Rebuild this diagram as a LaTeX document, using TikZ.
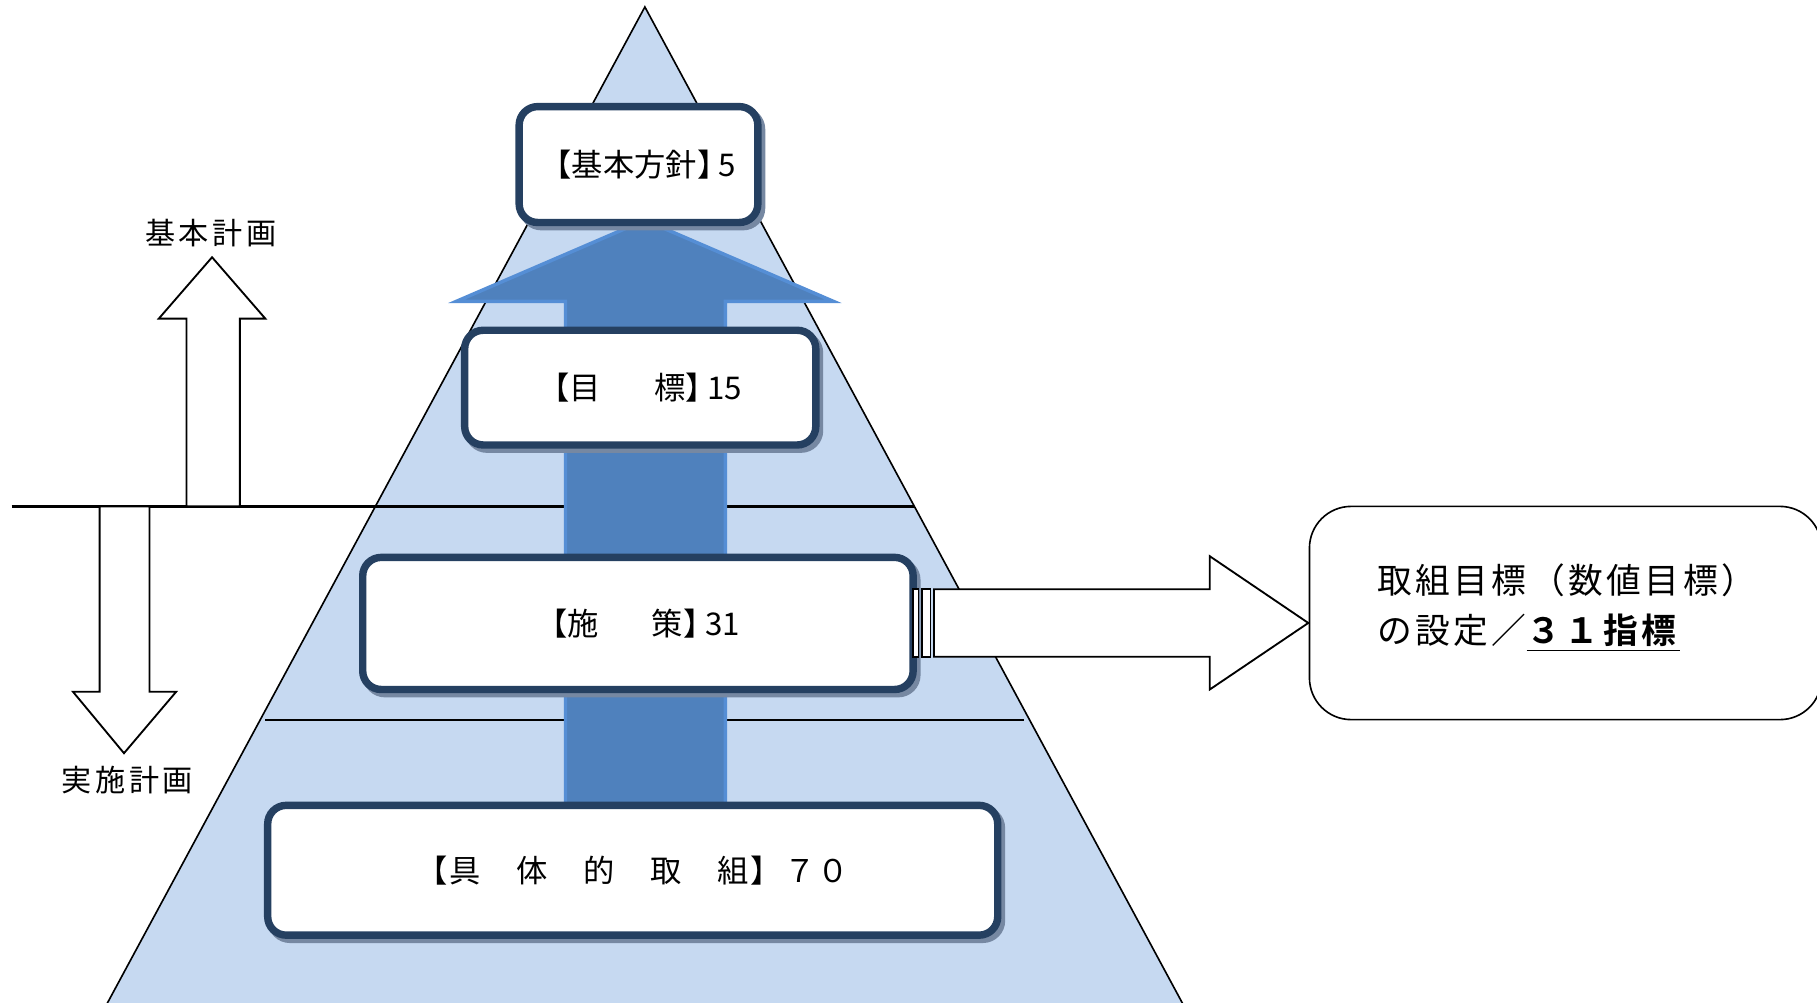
\documentclass[tikz,border=0pt]{standalone}
\usepackage{fontspec}
\setmainfont{Noto Sans CJK JP}[BoldFont={Noto Sans CJK JP Bold}]
\newfontfamily\jplab{Noto Sans CJK JP}[LetterSpace=12]
\newfontfamily\jpright{Noto Sans CJK JP}[LetterSpace=10,BoldFont={Noto Sans CJK JP Bold}]
\newfontfamily\jpwide{Noto Sans CJK JP}[LetterSpace=7]
\definecolor{trifill}{HTML}{C6D9F1}
\definecolor{arrfill}{HTML}{4F81BD}
\definecolor{arrline}{HTML}{558ED5}
\definecolor{navy}{HTML}{254061}
\definecolor{shadowc}{HTML}{7688A2}
\tikzset{
  pbox/.style={draw=navy, line width=3.2pt, fill=white, rounded corners=8pt,
    inner sep=0pt, font=\fontsize{13.5}{16}\selectfont,
    preaction={draw=shadowc, line width=3.2pt, transform canvas={shift={(1.6pt,-1.8pt)}}}},
  hollow/.style={draw=black, fill=white, line width=0.8pt, line join=miter},
  bluearrow/.style={draw=arrline, fill=arrfill, line width=1.5pt, line join=miter},
  lab/.style={font=\jplab\fontsize{13}{15}\selectfont, inner sep=0pt},
  rtext/.style={font=\jpright\fontsize{15}{18}\selectfont, inner sep=0pt, anchor=west},
}
\begin{document}
\begin{tikzpicture}[x=0.5pt,y=-0.5pt]
\useasboundingbox (0,0) rectangle (1568,865);
\clip (0,0) rectangle (1568,865);
% pyramid
\fill[trifill] (556.5,6) -- (1028.1,880) -- (84.9,880) -- cycle;
\draw[line width=0.7pt] (84.9,880) -- (556.5,6) -- (1028.1,880);
% level lines
\draw[line width=1.3pt] (10,437) -- (789,437);
\draw[line width=0.8pt] (229,621) -- (884,621);
% big blue arrow
\draw[bluearrow] (488,700) -- (488,260) -- (394,260) -- (556.5,190) -- (719,260) -- (626,260) -- (626,700) -- cycle;
% boxes
\node[pbox, minimum width=103pt, minimum height=50pt] (b1) at (551,142) {【基本方針】\kern-0.3em 5};
\node[pbox, minimum width=151.5pt, minimum height=49.5pt] (b2) at (552.5,334.5) {【目\hspace{23pt}標】\kern-0.3em 15};
\node[pbox, minimum width=237.5pt, minimum height=57pt] (b3) at (550.5,538) {【施\hspace{23pt}策】\kern-0.3em 31};
\node[pbox, minimum width=315pt, minimum height=56pt] (b4) at (546,751) {\jpwide【具　体　的　取　組】７０};
% striped arrow
\draw[hollow] (788,508.5) rectangle (792.6,566.7);
\draw[hollow] (796,508.5) rectangle (803,566.7);
\draw[hollow] (806,508.5) -- (1044,508.5) -- (1044,480) -- (1129,537.6) -- (1044,595) -- (1044,566.7) -- (806,566.7) -- cycle;
% right box
\node[draw=black, line width=0.7pt, rounded corners=18pt, minimum width=221pt, minimum height=92pt, inner sep=0pt] (rb) at (1351,529) {};
\node[rtext] (t1) at (1188,501) {取組目標（数値目標）};
\node[rtext] (t2) at (1188,546) {の設定／\underline{\textbf{３１指標}}};
% left arrows
\draw[hollow] (161,437) -- (161,275) -- (137,275) -- (183,222) -- (229,275) -- (207,275) -- (207,437) -- cycle;
\draw[hollow] (86,437) -- (86,597) -- (63,597) -- (107,650) -- (152,597) -- (129,597) -- (129,437) -- cycle;
\node[lab] (l1) at (182,201) {基本計画};
\node[lab] (l2) at (110,673) {実施計画};
\end{tikzpicture}
\end{document}
